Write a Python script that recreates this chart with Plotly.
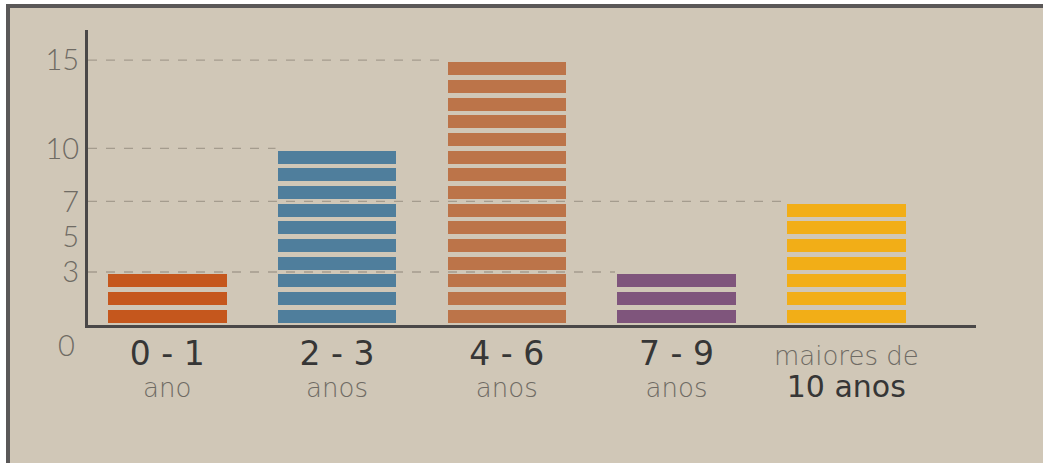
import plotly.graph_objects as go

# ---- data ----
categories = ["0 - 1 ano", "2 - 3 anos", "4 - 6 anos", "7 - 9 anos", "maiores de 10 anos"]
values = [3, 10, 15, 3, 7]
bar_colors = ["#C5571D", "#4F7E9C", "#BC7449", "#7F557C", "#F2AE17"]
tick_top = ["0 - 1", "2 - 3", "4 - 6", "7 - 9", "maiores de"]
tick_bottom = ["ano", "anos", "anos", "anos", "10 anos"]
y_ticks = [3, 5, 7, 10, 15]
grid_values = [15, 10, 7, 3]

BG = "#D0C7B7"
FRAME = "#5A5858"
AXIS = "#4A4848"
DARK = "#363636"
GRAY = "#6F6B64"

W, H = 1043, 463
ML, MR, MT, MB = 88, 67, 30, 138
PW, PH = W - ML - MR, H - MT - MB
BARGAP = 0.275
XR = [-0.467, 4.764]


def px(x):
    return (x - ML) / PW


def py(y):
    return (H - MB - y) / PH


fig = go.Figure()

# stripes: one stacked unit per level
for level in range(1, max(values) + 1):
    ys = [1 if v >= level else None for v in values]
    fig.add_trace(go.Bar(
        x=categories, y=ys,
        marker=dict(color=bar_colors, line=dict(color=BG, width=4.5)),
        hoverinfo="skip", showlegend=False,
    ))

# tick text
ticktext = []
for i, (a, b) in enumerate(zip(tick_top, tick_bottom)):
    if i < len(categories) - 1:
        ticktext.append(
            f"<span style='font-size:33px;color:{DARK};font-weight:400'>{a}</span><br>"
            f"<span style='font-size:26px'>{b}</span>")
    else:
        ticktext.append(
            f"<span style='font-size:26px'>{a}</span><br>"
            f"<span style='font-size:30px;color:{DARK};font-weight:400'>{b}</span>")

shapes = []
# page white margins and dark frame
shapes.append(dict(type="rect", xref="paper", yref="paper", x0=px(0), x1=px(6.5), y0=py(0), y1=py(H),
                   fillcolor="white", line=dict(width=0), layer="below"))
shapes.append(dict(type="rect", xref="paper", yref="paper", x0=px(0), x1=px(W), y0=py(0), y1=py(4.5),
                   fillcolor="white", line=dict(width=0), layer="below"))
shapes.append(dict(type="rect", xref="paper", yref="paper", x0=px(6), x1=px(10), y0=py(4), y1=py(H),
                   fillcolor=FRAME, line=dict(width=0), layer="below"))
shapes.append(dict(type="rect", xref="paper", yref="paper", x0=px(6), x1=px(W), y0=py(4), y1=py(8),
                   fillcolor=FRAME, line=dict(width=0), layer="below"))

# dashed guides running from the axis to the bar with that value
for g in grid_values:
    idx = max(i for i, v in enumerate(values) if v == g)
    shapes.append(dict(type="line", xref="x", yref="y", x0=XR[0], x1=idx - (1 - BARGAP) / 2,
                       y0=g, y1=g, line=dict(color="rgba(150,142,128,0.75)", width=1.3, dash="dash"),
                       layer="above"))

fig.update_layout(
    width=W, height=H, autosize=False,
    margin=dict(l=ML, r=MR, t=MT, b=MB, pad=0),
    paper_bgcolor=BG, plot_bgcolor="rgba(0,0,0,0)",
    barmode="stack", bargap=BARGAP,
    font=dict(family="DejaVu Sans", color=GRAY, size=25, weight=200),
    shapes=shapes,
    xaxis=dict(
        type="category", range=XR, showline=True, linecolor=AXIS, linewidth=2.5,
        showgrid=False, zeroline=False, ticks="", tickmode="array",
        tickvals=categories, ticktext=ticktext, ticklabelstandoff=7,
        tickfont=dict(family="DejaVu Sans", size=25, color=GRAY, weight=200),
    ),
    yaxis=dict(
        range=[0, 16.7], showline=True, linecolor=AXIS, linewidth=3,
        showgrid=False, zeroline=False, ticks="", tickmode="array",
        tickvals=y_ticks, ticktext=[str(t) for t in y_ticks], ticklabelstandoff=0,
        tickfont=dict(family="Lato", size=29, color=GRAY, weight=300),
    ),
    annotations=[dict(text="0", x=px(77), xref="paper", y=0, yref="y", xanchor="right",
                      yanchor="middle", yshift=-19, showarrow=False,
                      font=dict(family="Lato", size=29, color=GRAY, weight=300))],
)

fig.write_html("out.html")
